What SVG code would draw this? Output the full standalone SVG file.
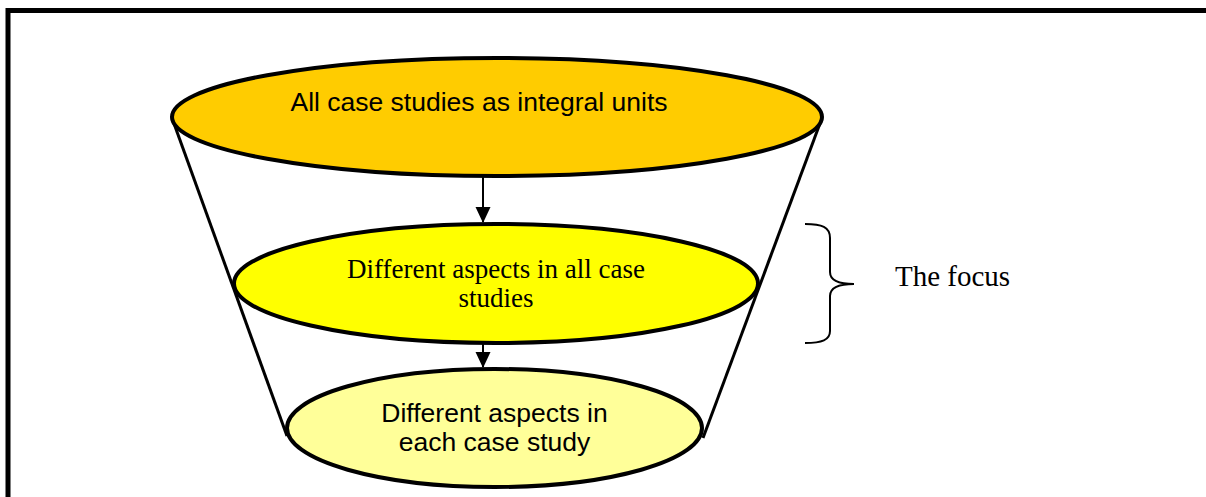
<svg xmlns="http://www.w3.org/2000/svg" width="1206" height="497" viewBox="0 0 1206 497">
  <defs>
    <marker id="arrowhead" viewBox="0 0 16 16" refX="15" refY="8" markerWidth="16" markerHeight="16" markerUnits="userSpaceOnUse" orient="auto">
      <path d="M0,0.5 L16,8 L0,15.5 Z" fill="#000"/>
    </marker>
  </defs>
  <style>
    .frame { fill: none; stroke: #000; stroke-width: 5; }
    .side { fill: none; stroke: #000; stroke-width: 3; }
    .stage { stroke: #000; stroke-width: 4; }
    .link { fill: none; stroke: #000; stroke-width: 2; }
    .sans { font-family: "Liberation Sans", Arial, sans-serif; font-size: 26.5px; fill: #000; text-anchor: middle; }
    .serif { font-family: "Liberation Serif", "Times New Roman", serif; font-size: 27px; fill: #000; text-anchor: middle; }
  </style>

  <rect width="1206" height="497" fill="#fff"/>
  <!-- outer frame, open to the right and bottom -->
  <path class="frame" d="M8,520 L8,10.5 L1220,10.5"/>

  <!-- funnel sides -->
  <g id="funnel-sides">
    <line class="side" x1="172" y1="118" x2="287" y2="436"/>
    <line class="side" x1="822" y1="118" x2="703" y2="438"/>
  </g>

  <g id="all-cases">
    <ellipse class="stage" cx="497" cy="117" rx="325" ry="59" fill="#FFCC00"/>
    <text class="sans" x="479" y="111">All case studies as integral units</text>
  </g>

  <g id="aspects-all">
    <ellipse class="stage" cx="496" cy="283.5" rx="262" ry="59.5" fill="#FFFF00"/>
    <text class="serif" x="496" y="278">Different aspects in all case</text>
    <text class="serif" x="496" y="307">studies</text>
  </g>

  <g id="aspects-each">
    <ellipse class="stage" cx="494.5" cy="428" rx="207.5" ry="59" fill="#FFFF99"/>
    <text class="sans" x="494.5" y="422">Different aspects in</text>
    <text class="sans" x="494.5" y="451">each case study</text>
  </g>

  <g id="connectors">
    <line class="link" x1="483" y1="176" x2="483" y2="222" marker-end="url(#arrowhead)"/>
    <line class="link" x1="483" y1="344" x2="483" y2="367" marker-end="url(#arrowhead)"/>
  </g>

  <g id="focus">
    <path class="link" d="M805,224 C822,224 830,227 830,238 L830,272 C830,280 838,284 854,284 C838,284 830,288 830,296 L830,331 C830,340 822,343 805,343"/>
    <text x="895" y="286" font-family="'Liberation Serif', 'Times New Roman', serif" font-size="29" fill="#000">The focus</text>
  </g>
</svg>
